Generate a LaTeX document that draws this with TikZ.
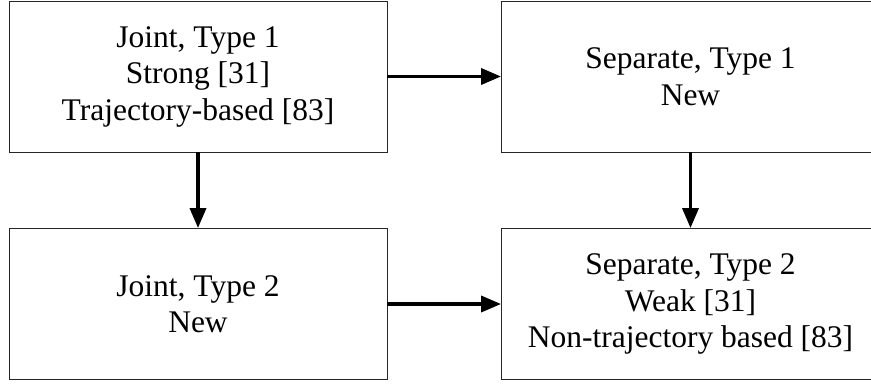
\documentclass[tikz,border=0pt]{standalone}
\usepackage{fontspec}
\setmainfont{Liberation Serif}
\usetikzlibrary{arrows.meta}
\begin{document}
\begin{tikzpicture}[x=1pt,y=1pt,
  box/.style={draw=black!85,line width=0.9pt,rectangle,inner sep=0pt,
    minimum width=378pt,minimum height=151pt,align=center,
    font=\fontsize{31.5}{36.5}\selectfont},
  flow/.style={line width=3.6pt,-{Triangle[length=20pt,width=16pt]}}]
  \clip (0,0) rectangle (871,-384);
  \node[box] (j1) at (198,-76.5) {Joint, Type 1\\Strong [31]\\Trajectory-based [83]};
  \node[box] (s1) at (690.5,-76.5) {Separate, Type 1\\New};
  \node[box] (j2) at (198,-304) {Joint, Type 2\\New};
  \node[box] (s2) at (690.5,-304) {Separate, Type 2\\Weak [31]\\Non-trajectory based [83]};
  \draw[flow] (j1.east) -- (s1.west);
  \draw[flow] (j2.east) -- (s2.west);
  \draw[flow] (j1.south) -- (j2.north);
  \draw[flow] (s1.south) -- (s2.north);
\end{tikzpicture}
\end{document}
